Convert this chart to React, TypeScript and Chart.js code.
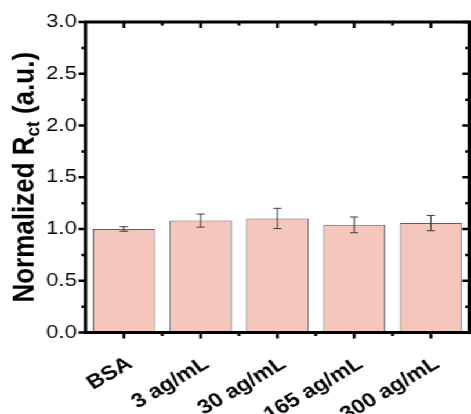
import React, { useEffect, useRef } from "react";
import { Chart, registerables } from "chart.js";

Chart.register(...registerables);

const categories = ["BSA", "3 ag/mL", "30 ag/mL", "165 ag/mL", "300 ag/mL"];
const values = [1.0, 1.081, 1.102, 1.04, 1.057];
const errors = [0.022, 0.063, 0.098, 0.076, 0.074];
const yTickValues = [0, 0.5, 1.0, 1.5, 2.0, 2.5, 3.0];
const titleMain = "Normalized R";
const titleSub = "ct";
const titleTail = " (a.u.)";

const SCALE_X = 1.16;
const W = Math.round(471 / SCALE_X);
const H = 414;
const FONT = "'Liberation Sans', Arial, sans-serif";
const LABEL_ANGLE = 34;

const framePlugin = {
  id: "frameAndErrors",
  afterDatasetsDraw(chart: any) {
    const { ctx, chartArea: a, scales } = chart;
    const xs = scales.x;
    const ys = scales.y;
    ctx.save();
    // error bars
    ctx.strokeStyle = "#3c3c3c";
    ctx.lineWidth = 1;
    values.forEach((v, i) => {
      const cx = xs.getPixelForValue(i);
      const yt = ys.getPixelForValue(v + errors[i]);
      const yb = ys.getPixelForValue(v - errors[i]);
      const cap = 3.5;
      ctx.beginPath();
      ctx.moveTo(cx, yt);
      ctx.lineTo(cx, yb);
      ctx.moveTo(cx - cap, yt);
      ctx.lineTo(cx + cap, yt);
      ctx.moveTo(cx - cap, yb);
      ctx.lineTo(cx + cap, yb);
      ctx.stroke();
    });
    // frame
    ctx.strokeStyle = "#000";
    ctx.lineWidth = 3;
    ctx.strokeRect(a.left, a.top, a.right - a.left, a.bottom - a.top);
    // y ticks (major + minor)
    ctx.lineWidth = 2.5;
    const yAll: number[] = [];
    yTickValues.forEach((v, i) => {
      yAll.push(v);
      if (i < yTickValues.length - 1) yAll.push((v + yTickValues[i + 1]) / 2);
    });
    yAll.forEach((v) => {
      const major = yTickValues.includes(v);
      const py = ys.getPixelForValue(v);
      const len = major ? 6 : 3.5;
      ctx.beginPath();
      ctx.moveTo(a.left, py);
      ctx.lineTo(a.left - len, py);
      ctx.moveTo(a.right, py);
      ctx.lineTo(a.right - len, py);
      ctx.stroke();
    });
    // x ticks
    categories.forEach((_, i) => {
      const cx = xs.getPixelForValue(i);
      ctx.beginPath();
      ctx.moveTo(cx, a.bottom);
      ctx.lineTo(cx, a.bottom + 6);
      ctx.moveTo(cx, a.top);
      ctx.lineTo(cx, a.top + 6);
      ctx.stroke();
      if (i > 0) {
        const bx = (xs.getPixelForValue(i) + xs.getPixelForValue(i - 1)) / 2;
        ctx.beginPath();
        ctx.moveTo(bx, a.bottom);
        ctx.lineTo(bx, a.bottom + 3.5);
        ctx.moveTo(bx, a.top);
        ctx.lineTo(bx, a.top + 3.5);
        ctx.stroke();
      }
    });
    // rotated category labels
    ctx.fillStyle = "#000";
    ctx.font = `bold 20px ${FONT}`;
    ctx.textAlign = "right";
    ctx.textBaseline = "alphabetic";
    categories.forEach((label, i) => {
      const cx = xs.getPixelForValue(i);
      ctx.save();
      ctx.translate(cx + 8.5, a.bottom + 34);
      ctx.rotate((-LABEL_ANGLE * Math.PI) / 180);
      ctx.fillText(label, 0, 0);
      ctx.restore();
    });
    // y title with subscript
    const big = `bold 26px ${FONT}`;
    const small = `bold 17px ${FONT}`;
    ctx.font = big;
    const w1 = ctx.measureText(titleMain).width;
    const w3 = ctx.measureText(titleTail).width;
    ctx.font = small;
    const w2 = ctx.measureText(titleSub).width;
    const total = w1 + w2 + w3;
    const cy = (a.top + a.bottom) / 2;
    ctx.translate(29, cy);
    ctx.rotate(-Math.PI / 2);
    ctx.textBaseline = "alphabetic";
    ctx.textAlign = "left";
    let x0 = -total / 2;
    ctx.font = big;
    ctx.fillText(titleMain, x0, 0);
    x0 += w1;
    ctx.font = small;
    ctx.fillText(titleSub, x0, 5);
    x0 += w2;
    ctx.font = big;
    ctx.fillText(titleTail, x0, 0);
    ctx.restore();
  },
};

export default function App() {
  const ref = useRef<HTMLCanvasElement>(null);
  useEffect(() => {
    if (!ref.current) return;
    const chart = new Chart(ref.current, {
      type: "bar",
      data: {
        labels: categories,
        datasets: [
          {
            data: values,
            backgroundColor: "#F5C6BC",
            borderColor: "#5e5e5e",
            borderWidth: 1,
            categoryPercentage: 1,
            barPercentage: 0.81,
          },
        ],
      },
      options: {
        responsive: false,
        animation: false,
        layout: { padding: { top: 22, right: 1.5, left: 0, bottom: 0 } },
        plugins: { legend: { display: false }, tooltip: { enabled: false } },
        scales: {
          x: {
            grid: { display: false, drawTicks: false },
            border: { display: false },
            ticks: { display: false },
            afterFit(scale: any) {
              scale.height = 81.5;
            },
          },
          y: {
            min: 0,
            max: 3,
            grid: { display: false, drawTicks: false },
            border: { display: false },
            afterBuildTicks(scale: any) {
              scale.ticks = yTickValues.map((v) => ({ value: v }));
            },
            ticks: {
              color: "#000",
              font: { family: FONT, size: 19 },
              padding: 7.5,
              callback: (v: any) => Number(v).toFixed(1),
            },
            afterFit(scale: any) {
              scale.width = 73.7;
            },
          },
        },
      },
      plugins: [framePlugin],
    });
    return () => chart.destroy();
  }, []);
  return (
    <div
      style={{
        position: "absolute",
        left: 0,
        top: 0,
        width: W,
        height: H,
        transform: `scaleX(${471 / W})`,
        transformOrigin: "0 0",
        background: "#fff",
      }}
    >
      <canvas ref={ref} width={W} height={H} style={{ display: "block" }} />
    </div>
  );
}
